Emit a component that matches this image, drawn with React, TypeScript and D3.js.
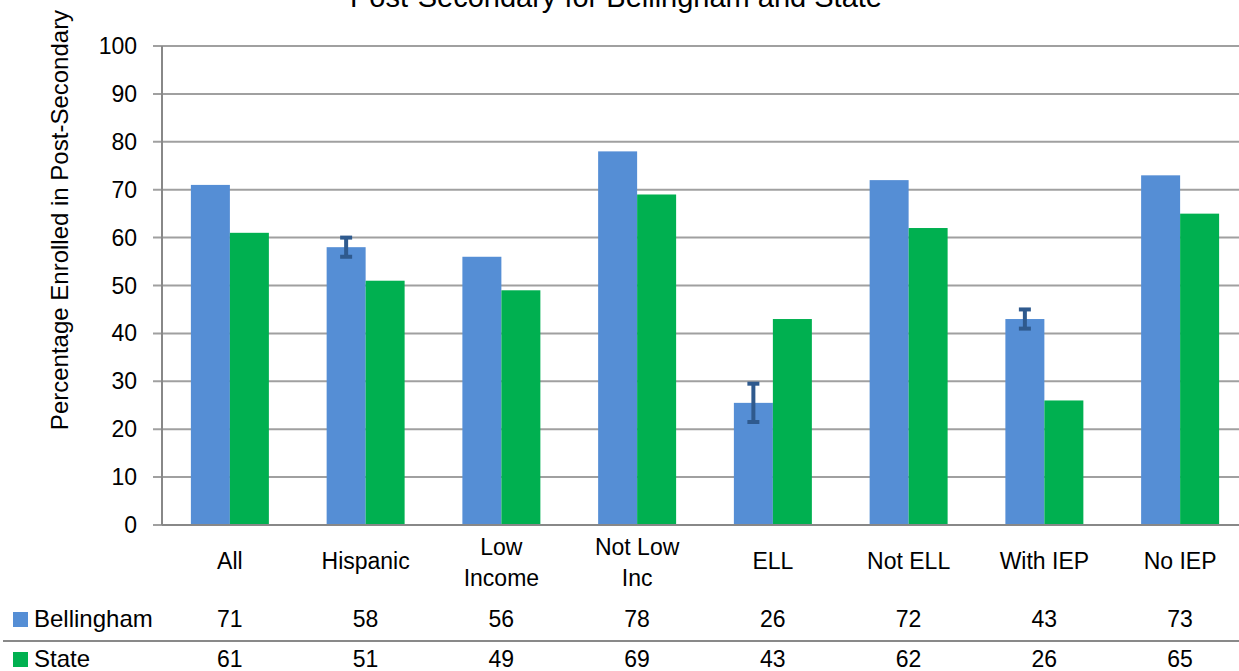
import * as d3 from "d3";

// chart data
const categories: string[][] = [
  ["All"],
  ["Hispanic"],
  ["Low", "Income"],
  ["Not Low", "Inc"],
  ["ELL"],
  ["Not ELL"],
  ["With IEP"],
  ["No IEP"],
];
const seriesNames = ["Bellingham", "State"];
const bellingham = [71, 58, 56, 78, 25.5, 72, 43, 73];
const state = [61, 51, 49, 69, 43, 62, 26, 65];
const bellinghamLabels = ["71", "58", "56", "78", "26", "72", "43", "73"];
const stateLabels = ["61", "51", "49", "69", "43", "62", "26", "65"];
// error bar half-widths on Bellingham (0 = none)
const bellinghamError = [0, 2, 0, 0, 4, 0, 2, 0];
const yTicks = [0, 10, 20, 30, 40, 50, 60, 70, 80, 90, 100];

const W = 1239;
const H = 671;
const FONT = "'Liberation Sans', Arial, sans-serif";
const BLUE = "#558ed5";
const GREEN = "#00b050";
const ERR = "#2f5a8e";
const GRID = "#a0a0a0";

export default function App() {
  const left = 162;
  const right = 1248;
  const top = 46;
  const bottom = 525;

  const keys = categories.map((c) => c.join(" "));
  const x = d3
    .scaleBand<string>()
    .domain(keys)
    .range([left, right])
    .paddingInner(0.4255)
    .paddingOuter(0.2128);
  const xs = d3
    .scaleBand<string>()
    .domain(seriesNames)
    .range([0, x.bandwidth()]);
  const y = d3.scaleLinear().domain([0, 100]).range([bottom, top]);

  const series = [
    { name: "Bellingham", values: bellingham, labels: bellinghamLabels, color: BLUE },
    { name: "State", values: state, labels: stateLabels, color: GREEN },
  ];
  const rowY = [627, 667];

  return (
    <svg
      width={W}
      height={H}
      style={{ position: "absolute", left: 0, top: 0, background: "#fff" }}
      fontFamily={FONT}
    >
      <text x={616} y={7} textAnchor="middle" fontSize={29} fill="#000">
        Post-Secondary for Bellingham and State
      </text>

      <text
        transform={`translate(68,220) rotate(-90)`}
        textAnchor="middle"
        fontSize={24}
        fill="#000"
      >
        Percentage Enrolled in Post-Secondary
      </text>

      {/* gridlines + ticks */}
      {yTicks.map((t) => (
        <g key={t}>
          <line
            x1={153}
            x2={t === 0 ? left : right}
            y1={y(t)}
            y2={y(t)}
            stroke={GRID}
            strokeWidth={2}
          />
          <text
            x={137}
            y={y(t) + 8}
            textAnchor="end"
            fontSize={23}
            fill="#000"
          >
            {t}
          </text>
        </g>
      ))}

      {/* bars */}
      {series.map((s) =>
        s.values.map((v, i) => (
          <rect
            key={s.name + i}
            x={(x(keys[i]) ?? 0) + (xs(s.name) ?? 0)}
            y={y(v)}
            width={xs.bandwidth()}
            height={y(0) - y(v)}
            fill={s.color}
          />
        ))
      )}

      {/* error bars */}
      {bellinghamError.map((e, i) => {
        if (!e) return null;
        const cx = (x(keys[i]) ?? 0) + (xs("Bellingham") ?? 0) + xs.bandwidth() / 2;
        const v = bellingham[i];
        return (
          <g key={"err" + i} stroke={ERR}>
            <line x1={cx} x2={cx} y1={y(v + e)} y2={y(v - e)} strokeWidth={4} />
            <line x1={cx - 6} x2={cx + 6} y1={y(v + e)} y2={y(v + e)} strokeWidth={4} />
            <line x1={cx - 6} x2={cx + 6} y1={y(v - e)} y2={y(v - e)} strokeWidth={4} />
          </g>
        );
      })}

      {/* axes */}
      <line x1={left} x2={right} y1={bottom} y2={bottom} stroke="#888" strokeWidth={2} />
      <line x1={left} x2={left} y1={top} y2={bottom} stroke="#888" strokeWidth={2} />

      {/* category labels */}
      {categories.map((c, i) => {
        const cx = (x(keys[i]) ?? 0) + x.bandwidth() / 2;
        const baseY = c.length === 1 ? 569 : 555;
        return (
          <text key={"cat" + i} textAnchor="middle" fontSize={23} fill="#000">
            {c.map((line, j) => (
              <tspan key={j} x={cx} y={baseY + j * 31}>
                {line}
              </tspan>
            ))}
          </text>
        );
      })}

      {/* data table */}
      <line x1={3} x2={W} y1={641} y2={641} stroke="#898989" strokeWidth={2} />
      {series.map((s, r) => (
        <g key={"row" + s.name}>
          <rect x={13} y={rowY[r] - 15} width={15} height={15} fill={s.color} />
          <text x={34} y={rowY[r]} fontSize={24} fill="#000">
            {s.name}
          </text>
          {s.labels.map((lab, i) => (
            <text
              key={i}
              x={(x(keys[i]) ?? 0) + x.bandwidth() / 2}
              y={rowY[r]}
              textAnchor="middle"
              fontSize={23}
              fill="#000"
            >
              {lab}
            </text>
          ))}
        </g>
      ))}
    </svg>
  );
}
